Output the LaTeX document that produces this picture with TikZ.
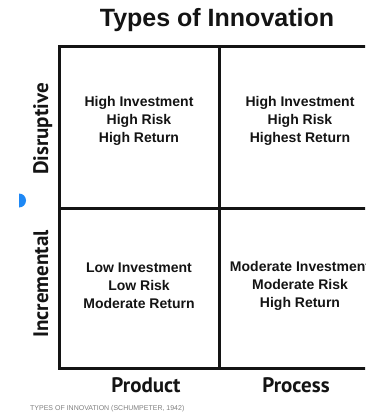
\documentclass[tikz,border=0pt]{standalone}
\usepackage{fontspec}
\setmainfont{Liberation Sans}
\newfontfamily\axisfont{PT Sans}
\usetikzlibrary{positioning}

\definecolor{dotblue}{RGB}{30,136,245}
\definecolor{inkgray}{RGB}{20,20,20}

\begin{document}
\begin{tikzpicture}[x=1pt, y=-1pt,
    cell/.style={align=center, text=inkgray, inner sep=0pt,
        font=\fontsize{14}{18}\selectfont\bfseries},
    axislabel/.style={anchor=base, inner sep=0pt, text=inkgray,
        font=\axisfont\fontsize{21}{24}\selectfont\bfseries},
    gridline/.style={line width=3pt, inkgray}]
    \useasboundingbox (0,0) rectangle (365,414);
    \clip (0,0) rectangle (365,414);
    \fill[white] (0,0) rectangle (365,414);
    % title
    \node[anchor=base, inner sep=0pt, font=\fontsize{25}{30}\selectfont\bfseries, text=inkgray] (title) at (217,27) {Types of Innovation};
    % grid
    \draw[gridline] (59,47) rectangle (382,368);
    \draw[gridline] (219,47) -- (219,368);
    \draw[gridline] (59,208) -- (382,208);
    % cells
    \node[cell] (dis-prod) at (139,121) {High Investment\\High Risk\\High Return};
    \node[cell] (dis-proc) at (300,121) {High Investment\\High Risk\\Highest Return};
    \node[cell] (inc-prod) at (139,286) {Low Investment\\Low Risk\\Moderate Return};
    \node[cell] (inc-proc) at (300,286) {Moderate Investment\\Moderate Risk\\High Return};
    % axis labels
    \node[axislabel, rotate=90] (disruptive) at (48,129) {Disruptive};
    \node[axislabel, rotate=90] (incremental) at (48,284) {Incremental};
    \node[axislabel] (product) at (146,392) {Product};
    \node[axislabel] (process) at (296,392) {Process};
    % source
    \node[anchor=base west, inner sep=0pt, text=gray, font=\fontsize{7}{8}\selectfont] (source) at (30,410) {TYPES OF INNOVATION (SCHUMPETER, 1942)};
    % blue marker
    \begin{scope}
        \clip (19,190) rectangle (30,212);
        \fill[dotblue] (19,200.5) circle[radius=7pt];
    \end{scope}
\end{tikzpicture}
\end{document}
